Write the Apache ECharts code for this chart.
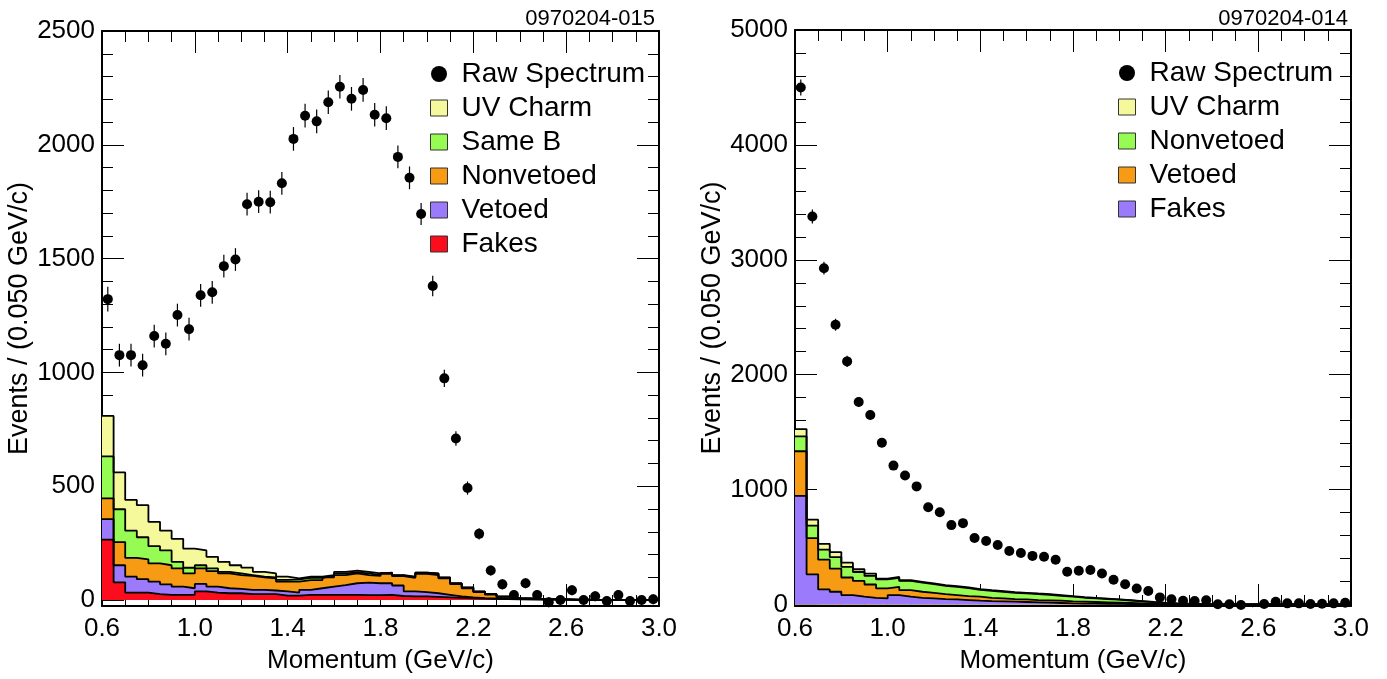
<!DOCTYPE html>
<html>
<head>
<meta charset="utf-8">
<script src="https://cdn.jsdelivr.net/npm/echarts@6/dist/echarts.min.js"></script>
<style>
  html, body { margin: 0; padding: 0; background: #fff; }
  #chart { width: 1387px; height: 679px; }
</style>
</head>
<body>
<div id="chart"></div>
<script>
// momentum binning (GeV/c)
const X_MIN = 0.6
const X_MAX = 3.0
const BIN = 0.05
const NBINS = 48

// tick labels
const xMajor = [0.6, 1.0, 1.4, 1.8, 2.2, 2.6, 3.0]
const xMinor = [0.7, 0.8, 0.9, 1.1, 1.2, 1.3, 1.5, 1.6, 1.7, 1.9, 2.0, 2.1, 2.3, 2.4, 2.5, 2.7, 2.8, 2.9]
const yMajorL = [0, 500, 1000, 1500, 2000, 2500]
const yMinorL = [100, 200, 300, 400, 600, 700, 800, 900, 1100, 1200, 1300, 1400, 1600, 1700, 1800, 1900, 2100, 2200, 2300, 2400]
const yMajorR = [0, 1000, 2000, 3000, 4000, 5000]
const yMinorR = [200, 400, 600, 800, 1200, 1400, 1600, 1800, 2200, 2400, 2600, 2800, 3200, 3400, 3600, 3800, 4200, 4400, 4600, 4800]

// left panel (0970204-015)
const rawL = [1322, 1076, 1076, 1032, 1160, 1126, 1252, 1190, 1339, 1352,
  1467, 1496, 1739, 1750, 1748, 1831, 2026, 2128, 2103, 2187,
  2255, 2202, 2241, 2132, 2117, 1947, 1855, 1696, 1380, 974,
  710, 492, 291, 130, 69, 22, 74, 22, -9, 0,
  43, 0, 17, -4, 22, -4, 0, 4]
const errL = [54, 50, 50, 50, 50, 50, 50, 50, 50, 50,
  50, 50, 50, 50, 50, 50, 52, 52, 52, 52,
  52, 52, 52, 52, 52, 50, 50, 48, 45, 38,
  32, 29, 25, 22, 22, 22, 22, 22, 22, 22,
  22, 22, 22, 22, 22, 22, 22, 22]
const fakesL = [266, 78, 33, 33, 26, 23, 23, 23, 38, 33,
  30, 30, 26, 26, 26, 20, 20, 23, 23, 23,
  23, 23, 22, 22, 23, 18, 16, 16, 14, 12,
  10, 8, 6, 5, 4, 3, 3, 2, 2, 2,
  1, 1, 0, 0, 0, 0, 0, 0]
const vetoedL = [90, 75, 70, 59, 55, 46, 36, 29, 33, 26,
  22, 19, 19, 19, 16, 18, 13, 22, 29, 36,
  43, 51, 55, 52, 51, 46, 22, 19, 16, 11,
  6, 4, 3, 2, 1, 1, 0, 1, 0, 0,
  0, 0, 0, 0, 0, 0, 0, 0]
const nonvetoedL = [91, 102, 82, 87, 80, 84, 80, 65, 68, 68,
  65, 61, 61, 55, 53, 43, 48, 43, 36, 41,
  44, 43, 33, 32, 41, 41, 60, 80, 80, 72,
  54, 40, 26, 17, 9, 4, 3, 2, 2, 1,
  1, 1, 0, 0, 0, 0, 0, 0]
const sameBL = [184, 144, 120, 97, 76, 65, 29, 25, 14, 12,
  7, 7, 4, 3, 5, 8, 10, 10, 10, 6,
  7, 5, 7, 4, 4, 3, 3, 5, 6, 4,
  3, 3, 2, 2, 1, 1, 1, 0, 0, 0,
  0, 0, 0, 0, 0, 0, 0, 0]
const uvCharmL = [178, 162, 135, 141, 107, 87, 101, 84, 65, 51,
  44, 36, 33, 21, 17, 14, 4, 5, 5, 4,
  7, 7, 7, 7, 2, 2, 2, 1, 1, 1,
  1, 1, 1, 1, 1, 0, 0, 0, 0, 0,
  0, 0, 0, 0, 0, 0, 0, 0]

// right panel (0970204-014)
const rawR = [4499, 3377, 2927, 2435, 2116, 1762, 1650, 1408, 1209, 1123,
  1028, 846, 803, 691, 708, 579, 553, 518, 466, 449,
  423, 415, 389, 285, 294, 300, 270, 216, 177, 140,
  117, 62, 45, 33, 30, 36, 2, 2, -4, -16,
  4, 24, 10, 10, 4, 7, 10, 16]
const errR = [70, 60, 56, 52, 48, 44, 42, 40, 37, 35,
  34, 31, 30, 28, 28, 26, 25, 24, 23, 23,
  22, 22, 21, 19, 19, 19, 18, 17, 16, 15,
  14, 12, 11, 10, 10, 10, 8, 8, 8, 8,
  8, 8, 8, 8, 8, 8, 8, 8]
const fakesR = [946, 263, 131, 111, 82, 68, 58, 53, 82, 68,
  58, 53, 47, 45, 39, 33, 30, 28, 25, 22,
  19, 16, 13, 10, 8, 7, 6, 5, 4, 3,
  2, 2, 1, 1, 0, 0, 0, 0, 0, 0,
  0, 0, 0, 0, 0, 0, 0, 0]
const vetoedR = [388, 314, 259, 201, 153, 137, 116, 87, 72, 57,
  53, 49, 44, 37, 34, 35, 28, 25, 22, 23,
  20, 20, 20, 18, 17, 15, 13, 11, 9, 7,
  5, 3, 2, 1, 1, 0, 0, 0, 0, 0,
  0, 0, 0, 0, 0, 0, 0, 0]
const nonvetoedR = [130, 110, 87, 101, 92, 78, 75, 78, 77, 80,
  80, 75, 72, 72, 70, 60, 61, 58, 55, 51,
  52, 49, 43, 40, 34, 32, 29, 26, 22, 18,
  13, 9, 6, 4, 2, 1, 1, 0, 0, 0,
  0, 0, 0, 0, 0, 0, 0, 0]
const uvCharmR = [63, 51, 51, 43, 37, 24, 20, 8, 9, 6,
  6, 6, 5, 6, 5, 6, 6, 6, 6, 6,
  5, 6, 6, 5, 6, 4, 4, 3, 3, 2,
  2, 1, 1, 1, 1, 1, 0, 0, 0, 0,
  0, 0, 0, 0, 0, 0, 0, 0]

const COL = {
  uv: '#f6f99b',
  sameB: '#96fb52',
  orange: '#f79a14',
  purple: '#9b7afb',
  red: '#fb0d1d'
}
const FONT = "'Liberation Sans', Arial, Helvetica, sans-serif"

const edges = []
for (let i = 0; i <= NBINS; i++) edges.push(+(X_MIN + i * BIN).toFixed(3))
const centers = edges.slice(0, NBINS).map(x => +(x + BIN / 2).toFixed(3))

// step data: value of bin i held from its low edge to the next
const stepData = vals => edges.map((x, i) => [x, vals[Math.min(i, vals.length - 1)]])

const tickStyle = { color: '#000', width: 1 }
const lineStyle2 = { color: '#000', width: 2 }

function xAxes (g) {
  const common = { type: 'value', gridIndex: g, min: X_MIN, max: X_MAX, splitLine: { show: false } }
  return [
    { ...common, position: 'bottom',
      axisLine: { show: true, onZero: false, lineStyle: lineStyle2 },
      axisTick: { show: true, inside: true, length: 22, customValues: xMajor, lineStyle: tickStyle },
      axisLabel: { show: true, customValues: xMajor, formatter: v => v.toFixed(1), fontSize: 26, color: '#000', fontFamily: FONT, margin: 10 },
      name: 'Momentum (GeV/c)', nameLocation: 'middle', nameGap: 42,
      nameTextStyle: { fontSize: 26, color: '#000', fontFamily: FONT } },
    { ...common, position: 'top',
      axisLine: { show: true, onZero: false, lineStyle: lineStyle2 },
      axisTick: { show: true, inside: true, length: 22, customValues: xMajor, lineStyle: tickStyle },
      axisLabel: { show: false } },
    { ...common, position: 'bottom',
      axisLine: { show: false, onZero: false },
      axisTick: { show: true, inside: true, length: 11, customValues: xMinor, lineStyle: tickStyle },
      axisLabel: { show: false } },
    { ...common, position: 'top',
      axisLine: { show: false, onZero: false },
      axisTick: { show: true, inside: true, length: 11, customValues: xMinor, lineStyle: tickStyle },
      axisLabel: { show: false } }
  ]
}

function yAxes (g, min, max, major, minor, nameGap) {
  const common = { type: 'value', gridIndex: g, min, max, splitLine: { show: false } }
  return [
    { ...common, position: 'left',
      axisLine: { show: true, onZero: false, lineStyle: lineStyle2 },
      axisTick: { show: true, inside: true, length: 22, customValues: major, lineStyle: tickStyle },
      axisLabel: { show: true, customValues: major, formatter: v => String(v), fontSize: 26, color: '#000', fontFamily: FONT, margin: 7 },
      name: 'Events / (0.050 GeV/c)', nameLocation: 'middle', nameGap,
      nameTextStyle: { fontSize: 27, color: '#000', fontFamily: FONT } },
    { ...common, position: 'right',
      axisLine: { show: true, onZero: false, lineStyle: lineStyle2 },
      axisTick: { show: true, inside: true, length: 22, customValues: major, lineStyle: tickStyle },
      axisLabel: { show: false } },
    { ...common, position: 'left',
      axisLine: { show: false, onZero: false },
      axisTick: { show: true, inside: true, length: 11, customValues: minor, lineStyle: tickStyle },
      axisLabel: { show: false } },
    { ...common, position: 'right',
      axisLine: { show: false, onZero: false },
      axisTick: { show: true, inside: true, length: 11, customValues: minor, lineStyle: tickStyle },
      axisLabel: { show: false } }
  ]
}

// layers bottom -> top
const layersL = [
  ['Fakes', fakesL, COL.red],
  ['Vetoed', vetoedL, COL.purple],
  ['Nonvetoed', nonvetoedL, COL.orange],
  ['Same B', sameBL, COL.sameB],
  ['UV Charm', uvCharmL, COL.uv]
]
const layersR = [
  ['Fakes', fakesR, COL.purple],
  ['Vetoed', vetoedR, COL.orange],
  ['Nonvetoed', nonvetoedR, COL.sameB],
  ['UV Charm', uvCharmR, COL.uv]
]

// like a ROOT stack: each cumulative histogram filled from zero,
// the largest drawn first and the smaller ones on top of it
function stackSeries (layers, g) {
  let run = new Array(NBINS).fill(0)
  const cum = layers.map(l => {
    run = run.map((v, i) => v + l[1][i])
    return run
  })
  const out = []
  for (let k = layers.length - 1; k >= 0; k--) {
    out.push({
      name: layers[k][0], type: 'line', xAxisIndex: g * 4, yAxisIndex: g * 4,
      step: 'end', data: stepData(cum[k]),
      symbol: 'none', silent: true, z: 2,
      lineStyle: { color: '#000', width: 1.8 },
      areaStyle: { color: layers[k][2], opacity: 1, origin: 0 },
      itemStyle: { color: layers[k][2] }
    })
  }
  return out
}

function rawSeries (vals, errs, g) {
  return [
    {
      name: 'errors', type: 'custom', xAxisIndex: g * 4, yAxisIndex: g * 4, z: 4, silent: true,
      data: vals.map((v, i) => [centers[i], v - errs[i], v + errs[i]]),
      encode: { x: 0, y: [1, 2] },
      renderItem (params, api) {
        const lo = api.coord([api.value(0), api.value(1)])
        const hi = api.coord([api.value(0), api.value(2)])
        return { type: 'line', shape: { x1: lo[0], y1: lo[1], x2: hi[0], y2: hi[1] }, style: { stroke: '#000', lineWidth: 1.2 } }
      }
    },
    {
      name: 'Raw Spectrum', type: 'scatter', xAxisIndex: g * 4, yAxisIndex: g * 4, z: 5, silent: true,
      data: vals.map((v, i) => [centers[i], v]),
      symbolSize: 10, itemStyle: { color: '#000', opacity: 1 }
    }
  ]
}

const series = [
  ...stackSeries(layersL, 0),
  ...rawSeries(rawL, errL, 0),
  ...stackSeries(layersR, 1),
  ...rawSeries(rawR, errR, 1)
]

function legendData (layers) {
  const items = [{ name: 'Raw Spectrum', icon: 'circle', itemStyle: { color: '#000', borderWidth: 0, opacity: 1 } }]
  layers.slice().reverse().forEach(l => {
    items.push({ name: l[0], icon: 'rect', itemStyle: { color: l[2], borderColor: '#333', borderWidth: 1 }, lineStyle: { width: 0 } })
  })
  return items
}

const legendCommon = {
  orient: 'vertical', padding: 0, itemGap: 6, itemWidth: 17, itemHeight: 16, selectedMode: false,
  textStyle: { fontSize: 28, fontFamily: FONT, color: '#000', lineHeight: 26, padding: [0, 0, 0, 9] }
}

const chart = echarts.init(document.getElementById('chart'), null, { renderer: 'canvas' })
chart.setOption({
  animation: false,
  backgroundColor: '#fff',
  textStyle: { fontFamily: FONT },
  grid: [
    { left: 102, right: 728, top: 31, bottom: 66 },
    { left: 795, right: 36, top: 30, bottom: 68 }
  ],
  xAxis: [...xAxes(0), ...xAxes(1)],
  yAxis: [
    ...yAxes(0, -26, 2500, yMajorL, yMinorL, 65),
    ...yAxes(1, -13, 5000, yMajorR, yMinorR, 48)
  ],
  legend: [
    { ...legendCommon, left: 430, top: 60, data: legendData(layersL) },
    { ...legendCommon, left: 1118, top: 59, data: legendData(layersR) }
  ],
  graphic: [
    { type: 'text', x: 655, y: 30, style: { text: '0970204-015', align: 'right', verticalAlign: 'bottom', fontSize: 22, fontFamily: FONT, fill: '#000' } },
    { type: 'text', x: 1348, y: 30, style: { text: '0970204-014', align: 'right', verticalAlign: 'bottom', fontSize: 22, fontFamily: FONT, fill: '#000' } }
  ],
  series
})

window.addEventListener('resize', () => chart.resize())
</script>
</body>
</html>
